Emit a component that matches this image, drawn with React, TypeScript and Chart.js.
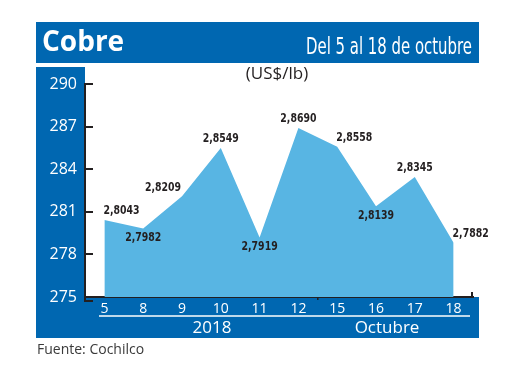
import { useEffect, useRef } from 'react';
import { Chart, registerables } from 'chart.js';

Chart.register(...registerables);

// ---- data ----
const days = ['5', '8', '9', '10', '11', '12', '15', '16', '17', '18'];
const priceUsdLb = [2.8043, 2.7982, 2.8209, 2.8549, 2.7919, 2.869, 2.8558, 2.8139, 2.8345, 2.7882];
const yTicks = [275, 278, 281, 284, 287, 290];
const labelPlacement = ['NE', 'S', 'NW', 'N', 'S', 'N', 'NE', 'S', 'N', 'NE'];
const titleText = 'Cobre';
const periodText = 'Del 5 al 18 de octubre';
const unitText = '(US$/lb)';
const yearText = '2018';
const monthText = 'Octubre';
const sourceText = 'Fuente: Cochilco';

const BLUE = '#0067b1';
const AREA = '#58b5e3';
const INK = '#231f20';
const SANS = '"Open Sans", "Noto Sans", sans-serif';
const NARROW = '"Liberation Sans Narrow", "DejaVu Sans Condensed", sans-serif';

function fmt(v: number) {
  return v.toFixed(4).replace('.', ',');
}

function drawText(
  ctx: CanvasRenderingContext2D,
  text: string,
  x: number,
  y: number,
  align: CanvasTextAlign,
  sx = 1,
) {
  ctx.save();
  ctx.translate(x, y);
  ctx.scale(sx, 1);
  ctx.textAlign = align;
  ctx.fillText(text, 0, 0);
  ctx.restore();
}

const decor = {
  id: 'decor',
  beforeDraw(chart: any) {
    const { ctx, chartArea: ca } = chart;
    ctx.save();
    ctx.fillStyle = '#ffffff';
    ctx.fillRect(0, 0, chart.width, chart.height);
    ctx.fillStyle = BLUE;
    // title bar
    ctx.fillRect(36, 22, 443, 41);
    // left column
    ctx.fillRect(36, 67, ca.left - 36, ca.bottom - 67);
    // bottom band
    ctx.fillRect(36, ca.bottom, 443, 41);

    // title texts
    ctx.fillStyle = '#ffffff';
    ctx.textBaseline = 'alphabetic';
    ctx.font = `bold 28px ${SANS}`;
    drawText(ctx, titleText, 42, 51, 'left');
    ctx.font = `23px ${NARROW}`;
    const w = ctx.measureText(periodText).width;
    drawText(ctx, periodText, 472, 54, 'right', Math.min(1, 166 / w));

    // unit
    ctx.fillStyle = INK;
    ctx.font = `17px ${SANS}`;
    ctx.textBaseline = 'middle';
    drawText(ctx, unitText, 277, 74, 'center');

    // source
    ctx.fillStyle = '#3a3a3a';
    ctx.font = `14px ${SANS}`;
    drawText(ctx, sourceText, 37, 350, 'left');
    ctx.restore();
  },
  afterDraw(chart: any) {
    const { ctx, chartArea: ca, scales } = chart;
    const ys = scales.y;
    ctx.save();
    ctx.strokeStyle = INK;
    ctx.lineWidth = 2;
    // y ticks pointing inside
    ys.ticks.forEach((t: any) => {
      const y = Math.round(ys.getPixelForValue(t.value));
      ctx.beginPath();
      ctx.moveTo(ca.left, y);
      ctx.lineTo(ca.left + 8, y);
      ctx.stroke();
    });
    // foot at bottom-left
    ctx.beginPath();
    ctx.moveTo(ca.left, ca.bottom);
    ctx.lineTo(ca.left, ca.bottom + 4);
    ctx.lineTo(ca.left + 8, ca.bottom + 4);
    ctx.stroke();
    // right-end tick
    ctx.beginPath();
    ctx.moveTo(ca.right - 1, ca.bottom + 1);
    ctx.lineTo(ca.right - 1, ca.bottom - 5);
    ctx.stroke();
    // middle tick
    const midX = (scales.x.getPixelForValue(5) + scales.x.getPixelForValue(6)) / 2;
    ctx.lineWidth = 1.5;
    ctx.beginPath();
    ctx.moveTo(midX, ca.bottom);
    ctx.lineTo(midX, ca.bottom + 3);
    ctx.stroke();

    // white rule under day labels
    ctx.strokeStyle = '#ffffff';
    ctx.lineWidth = 1.5;
    ctx.beginPath();
    ctx.moveTo(99, ca.bottom + 19);
    ctx.lineTo(470, ca.bottom + 19);
    ctx.stroke();

    ctx.fillStyle = '#ffffff';
    ctx.font = `17px ${SANS}`;
    ctx.textBaseline = 'middle';
    drawText(ctx, yearText, 212, ca.bottom + 31, 'center');
    drawText(ctx, monthText, 387, ca.bottom + 31, 'center');
    ctx.restore();
  },
  afterDatasetsDraw(chart: any) {
    const { ctx } = chart;
    const meta = chart.getDatasetMeta(0);
    ctx.save();
    ctx.fillStyle = INK;
    ctx.font = `bold 13px ${NARROW}`;
    ctx.textBaseline = 'middle';
    meta.data.forEach((pt: any, i: number) => {
      const txt = fmt(priceUsdLb[i]);
      const p = labelPlacement[i];
      const dy = p === 'S' ? 9 : -9;
      let align: CanvasTextAlign = 'center';
      let dx = 0;
      if (p === 'NE') { align = 'left'; dx = -1; }
      if (p === 'NW') { align = 'right'; dx = -1; }
      drawText(ctx, txt, pt.x + dx, pt.y + dy, align, 0.8);
    });
    ctx.restore();
  },
};

export default function App() {
  const ref = useRef<HTMLCanvasElement>(null);
  useEffect(() => {
    if (!ref.current) return;
    const chart = new Chart(ref.current, {
      type: 'line',
      data: {
        labels: days,
        datasets: [
          {
            data: priceUsdLb.map((v) => v * 100),
            fill: 'start',
            backgroundColor: AREA,
            borderWidth: 0,
            pointRadius: 0,
            tension: 0,
          },
        ],
      },
      options: {
        responsive: false,
        animation: false,
        layout: { padding: { top: 84, right: 47, left: 0, bottom: 0 } },
        plugins: { legend: { display: false }, tooltip: { enabled: false } },
        scales: {
          x: {
            type: 'category',
            offset: true,
            grid: { display: false, drawTicks: false },
            border: { display: true, color: INK, width: 2 },
            ticks: {
              color: '#ffffff',
              font: { family: SANS, size: 14 },
              padding: 4,
              maxRotation: 0,
              autoSkip: false,
            },
            afterFit(s: any) {
              s.height = 93;
            },
          },
          y: {
            min: 275,
            max: 290,
            afterBuildTicks(s: any) {
              s.ticks = yTicks.map((v) => ({ value: v }));
            },
            grid: { display: false, drawTicks: false },
            border: { display: true, color: INK, width: 2 },
            ticks: {
              color: '#ffffff',
              font: { family: SANS, size: 16 },
              padding: 8,
            },
            afterFit(s: any) {
              s.width = 85;
            },
          },
        },
      },
      plugins: [decor],
    });
    return () => chart.destroy();
  }, []);
  return (
    <div style={{ position: 'absolute', left: 0, top: 0, width: 520, height: 390 }}>
      <canvas ref={ref} width={520} height={390} style={{ display: 'block' }} />
    </div>
  );
}
